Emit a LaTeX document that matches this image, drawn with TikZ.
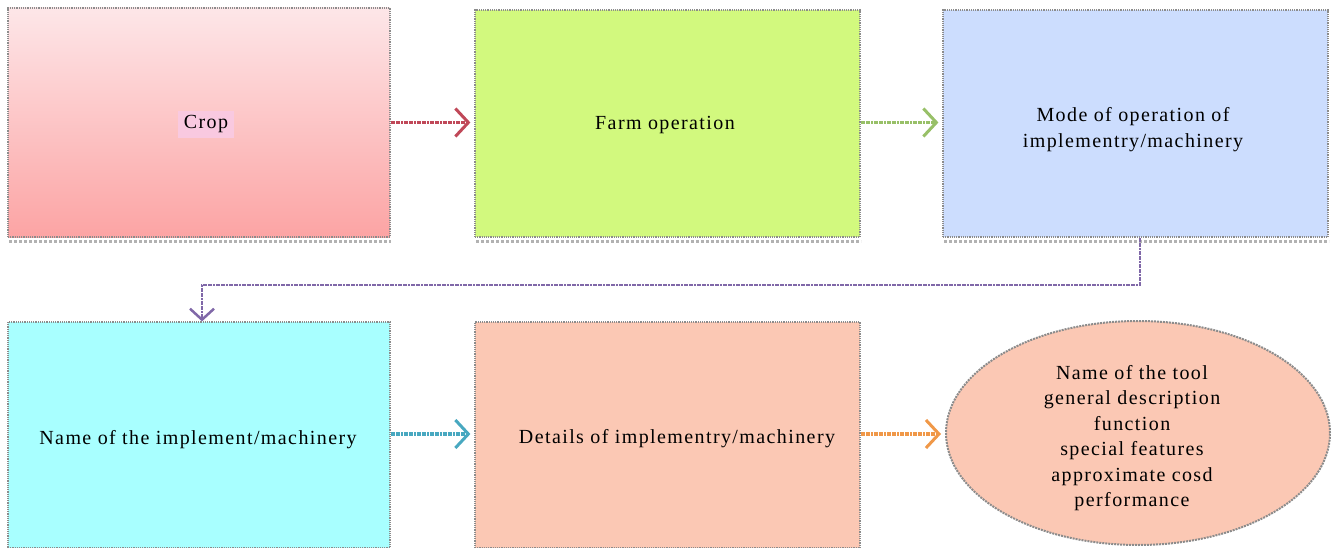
\documentclass[tikz,border=0pt]{standalone}
\usepackage{fontspec}
\setmainfont{Liberation Serif}[LetterSpace=7]
\usetikzlibrary{arrows.meta,shapes.geometric}
\definecolor{boxA1}{HTML}{FDE6E8}
\definecolor{boxA2}{HTML}{FCA4A4}
\definecolor{boxB}{HTML}{D2F97E}
\definecolor{boxC}{HTML}{CCDDFE}
\definecolor{boxD}{HTML}{A8FFFF}
\definecolor{boxE}{HTML}{FBC8B4}
\definecolor{cropbg}{HTML}{F9C9E0}
\definecolor{arrA}{HTML}{C04858}
\definecolor{arrB}{HTML}{98C068}
\definecolor{arrC}{HTML}{8068A8}
\definecolor{arrD}{HTML}{48A8C0}
\definecolor{arrE}{HTML}{F09848}
\tikzset{
  x=1pt,y=-1pt,
  box/.style={draw=gray!90, densely dotted, line width=1.2pt, inner sep=0pt, align=center, font=\fontsize{20}{26}\selectfont},
  shade/.style={draw=gray!60, dotted, line width=3pt},
  conn/.style={line width=3.5pt, dash pattern=on 2pt off 0.6pt, shorten >=4pt, -{Straight Barb[length=13pt,width=28pt,line width=3pt]}},
  txt/.style={align=center, inner sep=0pt, font=\fontsize{20}{26}\selectfont}
}
\begin{document}
\begin{tikzpicture}
\useasboundingbox (0,0) rectangle (1335,548);
% row 1
\node[box, top color=boxA1, bottom color=boxA2, minimum width=382pt, minimum height=229pt] (crop) at (199,122.5) {};
\node[fill=cropbg, inner xsep=6pt, inner ysep=5pt, font=\fontsize{20}{26}\selectfont] (croplbl) at (206,124.5) {Crop};
\node[box, fill=boxB, minimum width=385pt, minimum height=227pt] (farm) at (667.5,123.5) {};
\node[txt] (farmlbl) at (665,125) {Farm operation};
\node[box, fill=boxC, minimum width=385pt, minimum height=227pt] (mode) at (1135.5,123.5) {};
\node[txt] (modelbl) at (1133,130) {Mode of operation of\\implementry/machinery};
% row 2
\node[box, fill=boxD, minimum width=382pt, minimum height=226pt] (name) at (199,435) {};
\node[txt] (namelbl) at (198,440) {Name of the implement/machinery};
\node[box, fill=boxE, minimum width=385pt, minimum height=226pt] (det) at (667.5,435) {};
\node[txt] (detlbl) at (677,439) {Details of implementry/machinery};
\node[ellipse, draw=gray!90, densely dotted, line width=2pt, fill=boxE, minimum width=384pt, minimum height=224pt, inner sep=0pt] (tool) at (1138,433) {};
\node[align=center, inner sep=0pt, font=\fontsize{20}{25.4}\selectfont] (toollbl) at (1132,438) {Name of the tool\\general description\\function\\special features\\approximate cosd\\performance};
% shadows
\draw[shade] (crop.south west) ++(2,4) -- ++(382,0);
\draw[shade] (farm.south west) ++(2,4) -- ++(385,0);
\draw[shade] (mode.south west) ++(2,4) -- ++(385,0);
% connectors
\draw[conn, arrA] (crop.east |- crop.center) -- (farm.west |- crop.center);
\draw[conn, arrB] (farm.east |- crop.center) -- (mode.west |- crop.center);
\coordinate (bend1) at (1140,285);
\coordinate (bend2) at (202,285);
\draw[conn, arrC, line width=2.5pt, -{Straight Barb[length=11pt,width=24pt,line width=2.5pt]}] (mode.south -| bend1) -- (bend1) -- (bend2) -- ([yshift=-4pt]name.north -| bend2);
\draw[conn, arrD] (name.east) ++(0,-1) coordinate (dA) -- (dA -| det.west);
\draw[conn, arrE] (det.east) ++(0,-1) coordinate (dB) -- (dB -| tool.west);
\end{tikzpicture}
\end{document}
